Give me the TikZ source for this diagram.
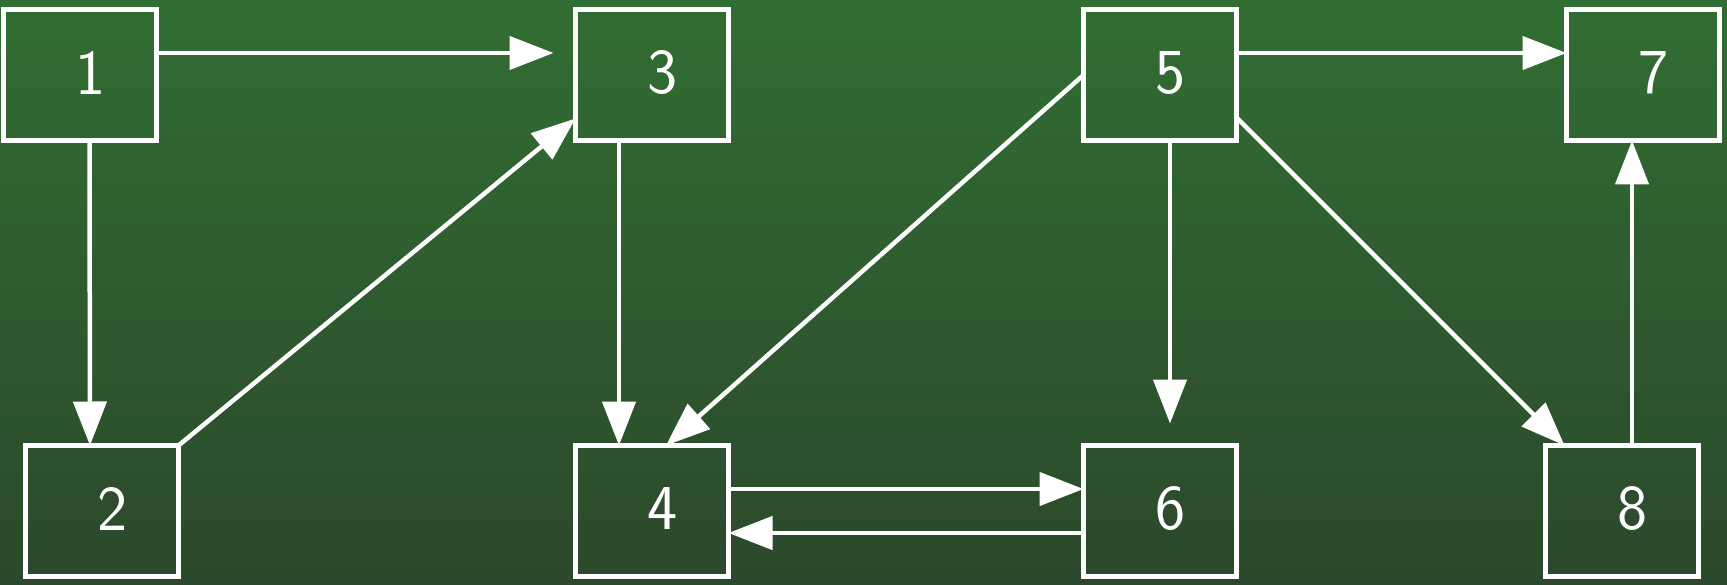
\documentclass[tikz,border=0pt]{standalone}
\usetikzlibrary{arrows.meta,calc}
\definecolor{bgtop}{RGB}{49,110,51}
\definecolor{bgbot}{RGB}{44,72,44}
\begin{document}
\begin{tikzpicture}[x=1pt,y=-1pt,
  box/.style={draw=white,line width=5pt,minimum width=153pt,minimum height=131pt,inner sep=0pt,outer sep=0pt},
  lbl/.style={text=white,font=\sffamily\fontsize{64}{64}\selectfont,inner sep=0pt},
  edge/.style={draw=white,line width=4.5pt,-{Triangle[length=44pt,width=33pt]}}]
\shade[top color=bgtop,bottom color=bgbot] (0,0) rectangle (1727,585);
\useasboundingbox (0,0) rectangle (1727,585);
\node[box] (n1) at (79.5,75) {};
\node[box] (n3) at (652,75) {};
\node[box] (n5) at (1160,75) {};
\node[box] (n7) at (1643,75) {};
\node[box] (n2) at (102,511) {};
\node[box] (n4) at (652,511) {};
\node[box] (n6) at (1160,511) {};
\node[box] (n8) at (1622,511) {};
\foreach \n in {1,...,8}{\node[lbl] (t\n) at ($(n\n.center)+(11,-2)$) {\n};}
\draw[edge] ($(n1.east)+(0,-22)$) -- ($(n3.west)+(-22,-22)$);
\draw[edge] ($(n1.south)+(10,0)$) -- ($(n2.north)+(-12,0)$);
\draw[edge] (n2.north east) -- ($(n3.south west)+(0,-22)$);
\draw[edge] ($(n3.south)+(-33,0)$) -- ($(n4.north)+(-33,0)$);
\draw[edge] (n5.west) -- ($(n4.north)+(14,0)$);
\draw[edge] ($(n5.south)+(10,0)$) -- ($(n6.north)+(10,-22)$);
\draw[edge] ($(n5.east)+(0,-22)$) -- ($(n7.west)+(0,-22)$);
\draw[edge] ($(n5.south east)+(0,-23)$) -- ($(n8.north west)+(19,0)$);
\draw[edge] ($(n8.north)+(10,0)$) -- ($(n7.south)+(-11,0)$);
\draw[edge] ($(n4.east)+(0,-22)$) -- ($(n6.west)+(0,-22)$);
\draw[edge] ($(n6.west)+(0,22)$) -- ($(n4.east)+(0,22)$);
\end{tikzpicture}
\end{document}
